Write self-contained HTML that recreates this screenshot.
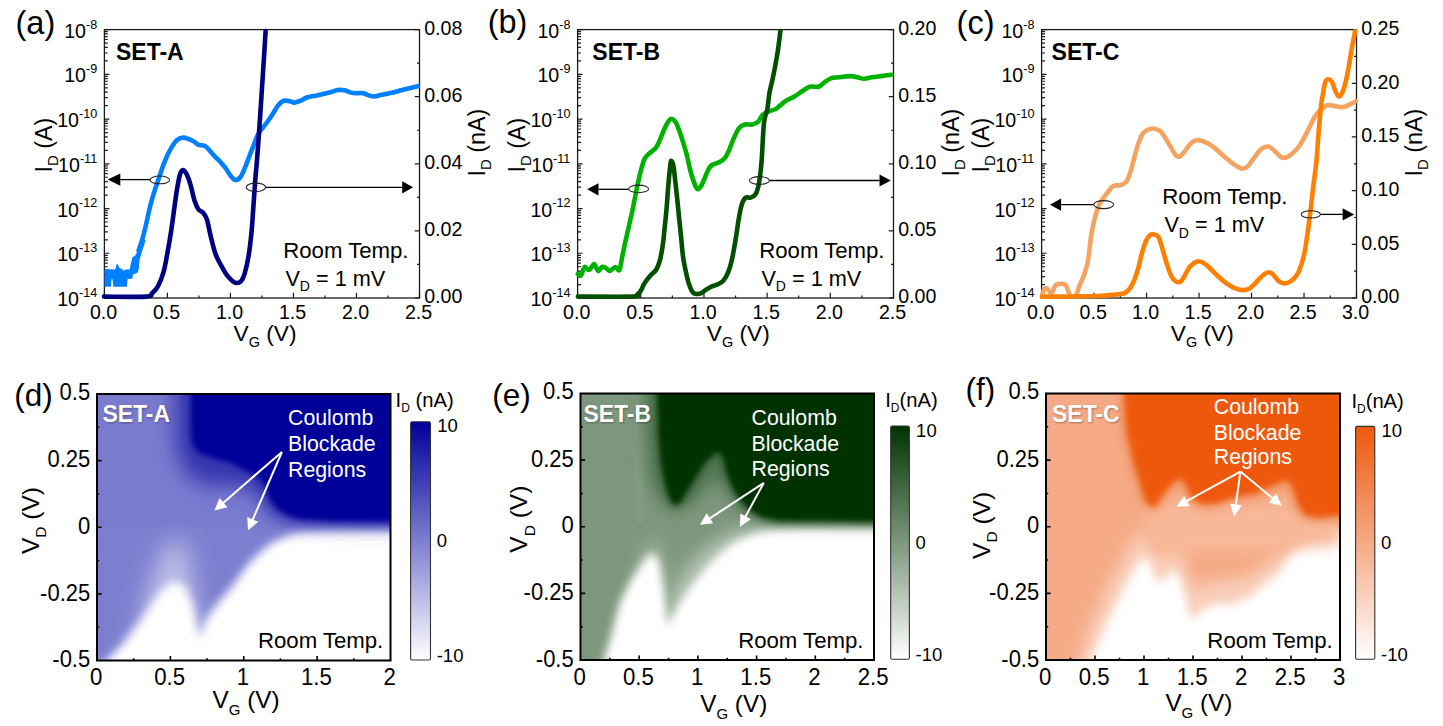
<!DOCTYPE html><html><head><meta charset="utf-8"><style>html,body{margin:0;padding:0;background:#fff;overflow:hidden}svg{display:block}</style></head><body><svg width="1443" height="726" viewBox="0 0 1443 726" font-family='"Liberation Sans", sans-serif'><text x="15.5" y="33.6" font-size="32.5">(a)</text><text x="487.7" y="33.4" font-size="32.5">(b)</text><text x="956.6" y="34.2" font-size="32.5">(c)</text><text x="14.2" y="405.5" font-size="31.5">(d)</text><text x="492.3" y="405.5" font-size="31.5">(e)</text><text x="965.6" y="399.6" font-size="31.5">(f)</text><rect x="104.4" y="29.6" width="315.1" height="268.4" fill="none" stroke="#1a1a1a" stroke-width="1.3"/><path d="M104.4 298V292.8M135.91 298V295.4M167.42 298V292.8M198.93 298V295.4M230.44 298V292.8M261.95 298V295.4M293.46 298V292.8M324.97 298V295.4M356.48 298V292.8M387.99 298V295.4M419.5 298V292.8M104.4 298H109.4M104.4 284.53H107.8M104.4 276.66H107.8M104.4 271.07H107.8M104.4 266.73H107.8M104.4 263.19H107.8M104.4 260.2H107.8M104.4 257.6H107.8M104.4 255.31H107.8M104.4 253.27H109.4M104.4 239.8H107.8M104.4 231.92H107.8M104.4 226.33H107.8M104.4 222H107.8M104.4 218.46H107.8M104.4 215.46H107.8M104.4 212.87H107.8M104.4 210.58H107.8M104.4 208.53H109.4M104.4 195.07H107.8M104.4 187.19H107.8M104.4 181.6H107.8M104.4 177.27H107.8M104.4 173.72H107.8M104.4 170.73H107.8M104.4 168.14H107.8M104.4 165.85H107.8M104.4 163.8H109.4M104.4 150.33H107.8M104.4 142.46H107.8M104.4 136.87H107.8M104.4 132.53H107.8M104.4 128.99H107.8M104.4 126H107.8M104.4 123.4H107.8M104.4 121.11H107.8M104.4 119.07H109.4M104.4 105.6H107.8M104.4 97.72H107.8M104.4 92.13H107.8M104.4 87.8H107.8M104.4 84.26H107.8M104.4 81.26H107.8M104.4 78.67H107.8M104.4 76.38H107.8M104.4 74.33H109.4M104.4 60.87H107.8M104.4 52.99H107.8M104.4 47.4H107.8M104.4 43.07H107.8M104.4 39.52H107.8M104.4 36.53H107.8M104.4 33.94H107.8M104.4 31.65H107.8M104.4 29.6H109.4M419.5 298H414.8M419.5 264.45H417M419.5 230.9H414.8M419.5 197.35H417M419.5 163.8H414.8M419.5 130.25H417M419.5 96.7H414.8M419.5 63.15H417M419.5 29.6H414.8" stroke="#1a1a1a" stroke-width="1.2" fill="none"/><text x="103.5" y="318.5" font-size="19.6" text-anchor="middle">0.0</text><text x="166.52" y="318.5" font-size="19.6" text-anchor="middle">0.5</text><text x="229.54" y="318.5" font-size="19.6" text-anchor="middle">1.0</text><text x="292.56" y="318.5" font-size="19.6" text-anchor="middle">1.5</text><text x="355.58" y="318.5" font-size="19.6" text-anchor="middle">2.0</text><text x="418.6" y="318.5" font-size="19.6" text-anchor="middle">2.5</text><text x="97.2" y="306.1" font-size="19.6" text-anchor="end">10<tspan font-size="12.6" dy="-9.2">-14</tspan></text><text x="97.2" y="261.37" font-size="19.6" text-anchor="end">10<tspan font-size="12.6" dy="-9.2">-13</tspan></text><text x="97.2" y="216.63" font-size="19.6" text-anchor="end">10<tspan font-size="12.6" dy="-9.2">-12</tspan></text><text x="97.2" y="171.9" font-size="19.6" text-anchor="end">10<tspan font-size="12.6" dy="-9.2">-11</tspan></text><text x="97.2" y="127.17" font-size="19.6" text-anchor="end">10<tspan font-size="12.6" dy="-9.2">-10</tspan></text><text x="97.2" y="82.43" font-size="19.6" text-anchor="end">10<tspan font-size="12.6" dy="-9.2">-9</tspan></text><text x="97.2" y="37.7" font-size="19.6" text-anchor="end">10<tspan font-size="12.6" dy="-9.2">-8</tspan></text><text x="424.2" y="303.3" font-size="19.6">0.00</text><text x="424.2" y="236.2" font-size="19.6">0.02</text><text x="424.2" y="169.1" font-size="19.6">0.04</text><text x="424.2" y="102" font-size="19.6">0.06</text><text x="424.2" y="34.9" font-size="19.6">0.08</text><text x="233.6" y="340.5" font-size="22.7">V<tspan font-size="14.5" dy="6.3">G</tspan><tspan dy="-6.3"> (V)</tspan></text><text transform="translate(51.7,172.5) rotate(-90)" font-size="23.3">I<tspan font-size="15" dy="6.5">D</tspan><tspan dy="-6.5"> (A)</tspan></text><text transform="translate(484.8,176.6) rotate(-90)" font-size="23.3">I<tspan font-size="15" dy="6.5">D</tspan><tspan dy="-6.5"> (nA)</tspan></text><rect x="577.6" y="29.6" width="315.9" height="268.4" fill="none" stroke="#1a1a1a" stroke-width="1.3"/><path d="M577.6 298V292.8M609.19 298V295.4M640.78 298V292.8M672.37 298V295.4M703.96 298V292.8M735.55 298V295.4M767.14 298V292.8M798.73 298V295.4M830.32 298V292.8M861.91 298V295.4M893.5 298V292.8M577.6 298H582.6M577.6 284.53H581M577.6 276.66H581M577.6 271.07H581M577.6 266.73H581M577.6 263.19H581M577.6 260.2H581M577.6 257.6H581M577.6 255.31H581M577.6 253.27H582.6M577.6 239.8H581M577.6 231.92H581M577.6 226.33H581M577.6 222H581M577.6 218.46H581M577.6 215.46H581M577.6 212.87H581M577.6 210.58H581M577.6 208.53H582.6M577.6 195.07H581M577.6 187.19H581M577.6 181.6H581M577.6 177.27H581M577.6 173.72H581M577.6 170.73H581M577.6 168.14H581M577.6 165.85H581M577.6 163.8H582.6M577.6 150.33H581M577.6 142.46H581M577.6 136.87H581M577.6 132.53H581M577.6 128.99H581M577.6 126H581M577.6 123.4H581M577.6 121.11H581M577.6 119.07H582.6M577.6 105.6H581M577.6 97.72H581M577.6 92.13H581M577.6 87.8H581M577.6 84.26H581M577.6 81.26H581M577.6 78.67H581M577.6 76.38H581M577.6 74.33H582.6M577.6 60.87H581M577.6 52.99H581M577.6 47.4H581M577.6 43.07H581M577.6 39.52H581M577.6 36.53H581M577.6 33.94H581M577.6 31.65H581M577.6 29.6H582.6M893.5 298H888.8M893.5 264.45H891M893.5 230.9H888.8M893.5 197.35H891M893.5 163.8H888.8M893.5 130.25H891M893.5 96.7H888.8M893.5 63.15H891M893.5 29.6H888.8" stroke="#1a1a1a" stroke-width="1.2" fill="none"/><text x="576.7" y="318.5" font-size="19.6" text-anchor="middle">0.0</text><text x="639.88" y="318.5" font-size="19.6" text-anchor="middle">0.5</text><text x="703.06" y="318.5" font-size="19.6" text-anchor="middle">1.0</text><text x="766.24" y="318.5" font-size="19.6" text-anchor="middle">1.5</text><text x="829.42" y="318.5" font-size="19.6" text-anchor="middle">2.0</text><text x="892.6" y="318.5" font-size="19.6" text-anchor="middle">2.5</text><text x="570.4" y="306.1" font-size="19.6" text-anchor="end">10<tspan font-size="12.6" dy="-9.2">-14</tspan></text><text x="570.4" y="261.37" font-size="19.6" text-anchor="end">10<tspan font-size="12.6" dy="-9.2">-13</tspan></text><text x="570.4" y="216.63" font-size="19.6" text-anchor="end">10<tspan font-size="12.6" dy="-9.2">-12</tspan></text><text x="570.4" y="171.9" font-size="19.6" text-anchor="end">10<tspan font-size="12.6" dy="-9.2">-11</tspan></text><text x="570.4" y="127.17" font-size="19.6" text-anchor="end">10<tspan font-size="12.6" dy="-9.2">-10</tspan></text><text x="570.4" y="82.43" font-size="19.6" text-anchor="end">10<tspan font-size="12.6" dy="-9.2">-9</tspan></text><text x="570.4" y="37.7" font-size="19.6" text-anchor="end">10<tspan font-size="12.6" dy="-9.2">-8</tspan></text><text x="898.2" y="303.3" font-size="19.6">0.00</text><text x="898.2" y="236.2" font-size="19.6">0.05</text><text x="898.2" y="169.1" font-size="19.6">0.10</text><text x="898.2" y="102" font-size="19.6">0.15</text><text x="898.2" y="34.9" font-size="19.6">0.20</text><text x="706.8" y="340.5" font-size="22.7">V<tspan font-size="14.5" dy="6.3">G</tspan><tspan dy="-6.3"> (V)</tspan></text><text transform="translate(524.9,172.5) rotate(-90)" font-size="23.3">I<tspan font-size="15" dy="6.5">D</tspan><tspan dy="-6.5"> (A)</tspan></text><text transform="translate(958.8,176.6) rotate(-90)" font-size="23.3">I<tspan font-size="15" dy="6.5">D</tspan><tspan dy="-6.5"> (nA)</tspan></text><rect x="1041.6" y="29.6" width="314.9" height="268.4" fill="none" stroke="#1a1a1a" stroke-width="1.3"/><path d="M1041.6 298V292.8M1067.84 298V295.4M1094.08 298V292.8M1120.32 298V295.4M1146.57 298V292.8M1172.81 298V295.4M1199.05 298V292.8M1225.29 298V295.4M1251.53 298V292.8M1277.78 298V295.4M1304.02 298V292.8M1330.26 298V295.4M1356.5 298V292.8M1041.6 298H1046.6M1041.6 284.53H1045M1041.6 276.66H1045M1041.6 271.07H1045M1041.6 266.73H1045M1041.6 263.19H1045M1041.6 260.2H1045M1041.6 257.6H1045M1041.6 255.31H1045M1041.6 253.27H1046.6M1041.6 239.8H1045M1041.6 231.92H1045M1041.6 226.33H1045M1041.6 222H1045M1041.6 218.46H1045M1041.6 215.46H1045M1041.6 212.87H1045M1041.6 210.58H1045M1041.6 208.53H1046.6M1041.6 195.07H1045M1041.6 187.19H1045M1041.6 181.6H1045M1041.6 177.27H1045M1041.6 173.72H1045M1041.6 170.73H1045M1041.6 168.14H1045M1041.6 165.85H1045M1041.6 163.8H1046.6M1041.6 150.33H1045M1041.6 142.46H1045M1041.6 136.87H1045M1041.6 132.53H1045M1041.6 128.99H1045M1041.6 126H1045M1041.6 123.4H1045M1041.6 121.11H1045M1041.6 119.07H1046.6M1041.6 105.6H1045M1041.6 97.72H1045M1041.6 92.13H1045M1041.6 87.8H1045M1041.6 84.26H1045M1041.6 81.26H1045M1041.6 78.67H1045M1041.6 76.38H1045M1041.6 74.33H1046.6M1041.6 60.87H1045M1041.6 52.99H1045M1041.6 47.4H1045M1041.6 43.07H1045M1041.6 39.52H1045M1041.6 36.53H1045M1041.6 33.94H1045M1041.6 31.65H1045M1041.6 29.6H1046.6M1356.5 298H1351.8M1356.5 271.16H1354M1356.5 244.32H1351.8M1356.5 217.48H1354M1356.5 190.64H1351.8M1356.5 163.8H1354M1356.5 136.96H1351.8M1356.5 110.12H1354M1356.5 83.28H1351.8M1356.5 56.44H1354M1356.5 29.6H1351.8" stroke="#1a1a1a" stroke-width="1.2" fill="none"/><text x="1040.7" y="318.5" font-size="19.6" text-anchor="middle">0.0</text><text x="1093.18" y="318.5" font-size="19.6" text-anchor="middle">0.5</text><text x="1145.67" y="318.5" font-size="19.6" text-anchor="middle">1.0</text><text x="1198.15" y="318.5" font-size="19.6" text-anchor="middle">1.5</text><text x="1250.63" y="318.5" font-size="19.6" text-anchor="middle">2.0</text><text x="1303.12" y="318.5" font-size="19.6" text-anchor="middle">2.5</text><text x="1355.6" y="318.5" font-size="19.6" text-anchor="middle">3.0</text><text x="1034.4" y="306.1" font-size="19.6" text-anchor="end">10<tspan font-size="12.6" dy="-9.2">-14</tspan></text><text x="1034.4" y="261.37" font-size="19.6" text-anchor="end">10<tspan font-size="12.6" dy="-9.2">-13</tspan></text><text x="1034.4" y="216.63" font-size="19.6" text-anchor="end">10<tspan font-size="12.6" dy="-9.2">-12</tspan></text><text x="1034.4" y="171.9" font-size="19.6" text-anchor="end">10<tspan font-size="12.6" dy="-9.2">-11</tspan></text><text x="1034.4" y="127.17" font-size="19.6" text-anchor="end">10<tspan font-size="12.6" dy="-9.2">-10</tspan></text><text x="1034.4" y="82.43" font-size="19.6" text-anchor="end">10<tspan font-size="12.6" dy="-9.2">-9</tspan></text><text x="1034.4" y="37.7" font-size="19.6" text-anchor="end">10<tspan font-size="12.6" dy="-9.2">-8</tspan></text><text x="1361.2" y="303.3" font-size="19.6">0.00</text><text x="1361.2" y="249.62" font-size="19.6">0.05</text><text x="1361.2" y="195.94" font-size="19.6">0.10</text><text x="1361.2" y="142.26" font-size="19.6">0.15</text><text x="1361.2" y="88.58" font-size="19.6">0.20</text><text x="1361.2" y="34.9" font-size="19.6">0.25</text><text x="1170.8" y="340.5" font-size="22.7">V<tspan font-size="14.5" dy="6.3">G</tspan><tspan dy="-6.3"> (V)</tspan></text><text transform="translate(988.9,172.5) rotate(-90)" font-size="23.3">I<tspan font-size="15" dy="6.5">D</tspan><tspan dy="-6.5"> (A)</tspan></text><text transform="translate(1421.8,176.6) rotate(-90)" font-size="23.3">I<tspan font-size="15" dy="6.5">D</tspan><tspan dy="-6.5"> (nA)</tspan></text><text x="116" y="59.9" font-size="23" font-weight="bold">SET-A</text><text x="592.3" y="59.8" font-size="23" font-weight="bold">SET-B</text><text x="1051.6" y="59.8" font-size="23" font-weight="bold">SET-C</text><text transform="translate(283.2 258.3) scale(1 1.03)" font-size="22.2">Room Temp.</text><text x="285.4" y="286.1" font-size="21.7">V<tspan font-size="14" dy="5.2">D</tspan><tspan dy="-5.2"> = 1 mV</tspan></text><text transform="translate(759.2 258.3) scale(1 1.03)" font-size="22.2">Room Temp.</text><text x="761.4" y="286.1" font-size="21.7">V<tspan font-size="14" dy="5.2">D</tspan><tspan dy="-5.2"> = 1 mV</tspan></text><text transform="translate(1162.2 204.1) scale(1 1.03)" font-size="22.2">Room Temp.</text><text x="1164.4" y="232.4" font-size="21.7">V<tspan font-size="14" dy="5.2">D</tspan><tspan dy="-5.2"> = 1 mV</tspan></text><polygon points="104.5,269.6 106.2,268.9 115.2,269.6 116.5,264.5 117.5,264.1 119.5,268 122.7,269.6 123.8,271 124.8,269.6 129.6,269.6 130.3,266.2 132.4,257.2 135.1,255.8 138.6,249 141.3,242.8 144.1,240 145.7,240 142.5,250 139.5,260 138.6,270.3 137.2,273 133,274.4 132.4,278.6 127.5,279.3 126.9,286.8 113.4,286.8 112.5,279.3 111.5,279.3 111,286.8 104.5,286.8" fill="#0080ff"/><path d="M138.6 250.6C139.23 248.68 141.12 243.6 142.4 239.1C143.68 234.6 145.02 229.07 146.3 223.6C147.58 218.13 148.82 211.43 150.1 206.3C151.38 201.17 152.7 196.98 154 192.8C155.3 188.62 156.62 185.07 157.9 181.2C159.18 177.33 160.27 173.58 161.7 169.6C163.13 165.62 164.88 160.97 166.5 157.3C168.12 153.63 169.63 150.5 171.4 147.6C173.17 144.7 175.18 141.57 177.1 139.9C179.02 138.23 180.97 137.75 182.9 137.6C184.83 137.45 186.77 138.28 188.7 139C190.63 139.72 192.88 140.93 194.5 141.9C196.12 142.87 196.8 144.17 198.4 144.8C200 145.43 202.5 145.07 204.1 145.7C205.7 146.33 206.38 146.98 208 148.6C209.62 150.22 211.87 153.32 213.8 155.4C215.73 157.48 217.67 159.02 219.6 161.1C221.53 163.18 223.48 165.33 225.4 167.9C227.32 170.47 229.42 174.48 231.1 176.5C232.78 178.52 233.93 179.92 235.5 180C237.07 180.08 238.92 179.08 240.5 177C242.08 174.92 243.42 171.25 245 167.5C246.58 163.75 248.42 158.58 250 154.5C251.58 150.42 253.08 146.5 254.5 143C255.92 139.5 257.08 136.08 258.5 133.5C259.92 130.92 261.42 129.58 263 127.5C264.58 125.42 266.33 123.33 268 121C269.67 118.67 271.4 116 273 113.5C274.6 111 276.18 107.92 277.6 106C279.02 104.08 280.18 102.9 281.5 102C282.82 101.1 284.08 100.73 285.5 100.6C286.92 100.47 288.55 100.87 290 101.2C291.45 101.53 292.87 102.55 294.2 102.6C295.53 102.65 296.78 101.87 298 101.5C299.22 101.13 299.92 101.12 301.5 100.4C303.08 99.68 305.12 97.97 307.5 97.2C309.88 96.43 313.03 96.38 315.8 95.8C318.57 95.22 321.35 94.38 324.1 93.7C326.85 93.02 330 92.32 332.3 91.7C334.6 91.08 335.83 90.23 337.9 90C339.97 89.77 342.18 89.78 344.7 90.3C347.22 90.82 350.02 92.63 353 93.1C355.98 93.57 360.07 92.77 362.6 93.1C365.13 93.43 366.35 94.53 368.2 95.1C370.05 95.67 371.63 96.5 373.7 96.5C375.77 96.5 377.85 95.67 380.6 95.1C383.35 94.53 386.77 93.9 390.2 93.1C393.63 92.3 397.98 91.12 401.2 90.3C404.42 89.48 406.75 88.88 409.5 88.2C412.25 87.52 416.33 86.53 417.7 86.2" fill="none" stroke="#0080ff" stroke-width="4.6" stroke-linejoin="round" stroke-linecap="round"/><path d="M104 296.6C111.05 296.6 138.28 297.18 146.3 296.6C154.32 296.02 150.17 294.82 152.1 293.1C154.03 291.38 155.98 289.83 157.9 286.3C159.82 282.77 162 277.52 163.6 271.9C165.2 266.28 166.2 259.68 167.5 252.6C168.8 245.52 170.27 236.8 171.4 229.4C172.53 222 173.35 214.95 174.3 208.2C175.25 201.45 176.15 194.52 177.1 188.9C178.05 183.28 179.03 177.65 180 174.5C180.97 171.35 181.77 170 182.9 170C184.03 170 185.52 171.98 186.8 174.5C188.08 177.02 189.32 180.77 190.6 185.1C191.88 189.43 193.2 196.48 194.5 200.5C195.8 204.52 196.95 207.12 198.4 209.2C199.85 211.28 201.77 211.23 203.2 213C204.63 214.77 205.72 215.78 207 219.8C208.28 223.82 209.45 231.32 210.9 237.1C212.35 242.88 213.93 249.67 215.7 254.5C217.47 259.33 219.57 262.57 221.5 266.1C223.43 269.63 225.37 273.13 227.3 275.7C229.23 278.27 231.65 280.28 233.1 281.5C234.55 282.72 234.72 283 236 283C237.28 283 239.37 283.03 240.8 281.5C242.23 279.97 243.32 277.98 244.6 273.8C245.88 269.62 247.37 263.15 248.5 256.4C249.63 249.65 250.6 241.33 251.4 233.3C252.2 225.27 252.65 217.2 253.3 208.2C253.95 199.2 254.75 186.5 255.3 179.3C255.85 172.1 256.13 170.6 256.6 165C257.07 159.4 257.52 153.73 258.1 145.7C258.68 137.67 259.45 126.43 260.1 116.8C260.75 107.17 261.37 97.55 262 87.9C262.63 78.25 263.3 68.38 263.9 58.9C264.5 49.42 265.32 35.65 265.6 31" fill="none" stroke="#000080" stroke-width="4.6" stroke-linejoin="round" stroke-linecap="round"/><path d="M120.3 179.6H150" stroke="#000" stroke-width="1.3"/><path d="M107.7 179.6L120.3 173.5L120.3 185.7Z" fill="#000"/><ellipse cx="159.8" cy="179.9" rx="9.8" ry="3.9" fill="none" stroke="#222" stroke-width="1.1"/><path d="M265.6 187.3H402.2" stroke="#000" stroke-width="1.3"/><path d="M413.1 187.3L402.2 181.2L402.2 193.4Z" fill="#000"/><ellipse cx="255.9" cy="187.3" rx="9.7" ry="4.2" fill="none" stroke="#222" stroke-width="1.1"/><path d="M577.9 273.8C578.38 274.12 579.68 276.83 580.8 275.7C581.92 274.57 583.32 267.95 584.6 267C585.88 266.05 587.43 269.83 588.5 270C589.57 270.17 590.03 268.98 591 268C591.97 267.02 593.12 263.62 594.3 264.1C595.48 264.58 596.82 270.42 598.1 270.9C599.38 271.38 600.7 267.48 602 267C603.3 266.52 604.62 267.35 605.9 268C607.18 268.65 608.1 271.07 609.7 270.9C611.3 270.73 613.88 267.15 615.5 267C617.12 266.85 618.27 271.77 619.4 270C620.53 268.23 621.35 260.92 622.3 256.4C623.25 251.88 623.98 248.03 625.1 242.9C626.22 237.77 627.7 231.38 629 225.6C630.3 219.82 631.62 214.32 632.9 208.2C634.18 202.08 635.42 195 636.7 188.9C637.98 182.8 639.32 176.55 640.6 171.6C641.88 166.65 643.12 162.07 644.4 159.2C645.68 156.33 646.37 156.33 648.3 154.4C650.23 152.47 654.07 150.02 656 147.6C657.93 145.18 658.3 143.43 659.9 139.9C661.5 136.37 663.83 129.87 665.6 126.4C667.37 122.93 668.88 119.9 670.5 119.1C672.12 118.3 673.87 119.73 675.3 121.6C676.73 123.47 677.82 126.92 679.1 130.3C680.38 133.68 681.7 137.72 683 141.9C684.3 146.08 685.62 150.38 686.9 155.4C688.18 160.42 689.1 166.57 690.7 172C692.3 177.43 694.88 185.5 696.5 188C698.12 190.5 699.12 188.45 700.4 187C701.68 185.55 702.92 182.13 704.2 179.3C705.48 176.47 706.82 172.38 708.1 170C709.38 167.62 709.98 166.32 711.9 165C713.82 163.68 717.35 163.38 719.6 162.1C721.85 160.82 723.78 159.38 725.4 157.3C727.02 155.22 728.02 152.5 729.3 149.6C730.58 146.7 731.5 143.43 733.1 139.9C734.7 136.37 736.97 130.97 738.9 128.4C740.83 125.83 742.45 125.15 744.7 124.5C746.95 123.85 750.15 124.98 752.4 124.5C754.65 124.02 756.48 123.23 758.2 121.6C759.92 119.97 760.68 116.48 762.7 114.7C764.72 112.92 768.02 111.92 770.3 110.9C772.58 109.88 773.87 110.23 776.4 108.6C778.93 106.97 782.48 103.12 785.5 101.1C788.52 99.08 791.73 98.15 794.5 96.5C797.27 94.85 799.57 92.83 802.1 91.2C804.63 89.57 806.92 87.45 809.7 86.7C812.48 85.95 816.28 87.47 818.8 86.7C821.32 85.93 822.78 83.5 824.8 82.1C826.82 80.7 828.62 79.1 830.9 78.3C833.18 77.5 835.22 77.67 838.5 77.3C841.78 76.93 847.32 76.05 850.6 76.1C853.88 76.15 855.93 77.15 858.2 77.6C860.47 78.05 861.93 78.85 864.2 78.8C866.47 78.75 869.02 77.75 871.8 77.3C874.58 76.85 877.62 76.52 880.9 76.1C884.18 75.68 889.73 75.02 891.5 74.8" fill="none" stroke="#00b200" stroke-width="4.6" stroke-linejoin="round" stroke-linecap="round"/><path d="M577.9 296.6C587.07 296.6 623.1 296.87 632.9 296.6C642.7 296.33 635.42 295.92 636.7 295C637.98 294.08 639.32 293.03 640.6 291.1C641.88 289.17 642.8 285.97 644.4 283.4C646 280.83 648.27 277.95 650.2 275.7C652.13 273.45 654.38 272.47 656 269.9C657.62 267.33 658.77 264.47 659.9 260.3C661.03 256.13 662 250.37 662.8 244.9C663.6 239.43 664.07 233.62 664.7 227.5C665.33 221.38 665.97 215.6 666.6 208.2C667.23 200.8 667.85 190.48 668.5 183.1C669.15 175.72 670.02 167.58 670.5 163.9C670.98 160.22 670.92 160.68 671.4 161C671.88 161.32 672.75 162.43 673.4 165.8C674.05 169.17 674.67 175.73 675.3 181.2C675.93 186.67 676.57 192.48 677.2 198.6C677.83 204.72 678.45 211.48 679.1 217.9C679.75 224.32 680.45 230.68 681.1 237.1C681.75 243.52 682.2 250.6 683 256.4C683.8 262.2 684.93 267.4 685.9 271.9C686.87 276.4 687.68 280.03 688.8 283.4C689.92 286.77 691.32 290.33 692.6 292.1C693.88 293.87 695.05 293.83 696.5 294C697.95 294.17 699.7 293.83 701.3 293.1C702.9 292.37 704.33 290.73 706.1 289.6C707.87 288.47 709.97 287.17 711.9 286.3C713.83 285.43 715.77 285.37 717.7 284.4C719.63 283.43 721.73 282.58 723.5 280.5C725.27 278.42 726.85 275.58 728.3 271.9C729.75 268.22 730.92 264.2 732.2 258.4C733.48 252.6 734.88 243.85 736 237.1C737.12 230.35 737.93 223.35 738.9 217.9C739.87 212.45 740.67 207.78 741.8 204.4C742.93 201.02 744.25 198.73 745.7 197.6C747.15 196.47 748.9 198.08 750.5 197.6C752.1 197.12 754.02 196.47 755.3 194.7C756.58 192.93 757.4 190.22 758.2 187C759 183.78 759.52 179.9 760.1 175.4C760.68 170.9 761.05 168.8 761.7 160C762.35 151.2 763.07 131.03 764 122.6C764.93 114.17 766.38 114.38 767.3 109.4C768.22 104.42 768.62 97.75 769.5 92.7C770.38 87.65 771.58 83.9 772.6 79.1C773.62 74.3 774.72 68.7 775.6 63.9C776.48 59.1 777.22 54.83 777.9 50.3C778.58 45.77 779.28 39.92 779.7 36.7C780.12 33.48 780.28 31.95 780.4 31" fill="none" stroke="#005000" stroke-width="4.6" stroke-linejoin="round" stroke-linecap="round"/><path d="M598.5 189.3H628.6" stroke="#000" stroke-width="1.3"/><path d="M587.1 189.3L598.5 183.2L598.5 195.4Z" fill="#000"/><ellipse cx="638.6" cy="188.9" rx="10" ry="3.8" fill="none" stroke="#222" stroke-width="1.1"/><path d="M769.4 180.5H879.5" stroke="#000" stroke-width="1.3"/><path d="M890.8 180.5L879.5 174.4L879.5 186.6Z" fill="#000"/><ellipse cx="759.4" cy="180.5" rx="10" ry="3.9" fill="none" stroke="#222" stroke-width="1.1"/><path d="M1042.3 294.7C1042.62 293.77 1043.47 290.13 1044.2 289.1C1044.93 288.07 1045.87 288.18 1046.7 288.5C1047.53 288.82 1048.43 290.17 1049.2 291C1049.97 291.83 1050.58 293.82 1051.3 293.5C1052.02 293.18 1052.72 290.5 1053.5 289.1C1054.28 287.7 1054.97 285.97 1056 285.1C1057.03 284.23 1058.37 284.05 1059.7 283.9C1061.03 283.75 1062.87 283.73 1064 284.2C1065.13 284.67 1065.77 285.47 1066.5 286.7C1067.23 287.93 1067.78 290.17 1068.4 291.6C1069.02 293.03 1069.48 294.47 1070.2 295.3C1070.92 296.13 1071.67 296.7 1072.7 296.6C1073.73 296.5 1075.37 296.25 1076.4 294.7C1077.43 293.15 1078.07 289.57 1078.9 287.3C1079.73 285.03 1080.57 283.07 1081.4 281.1C1082.23 279.13 1083.18 277.47 1083.9 275.5C1084.62 273.53 1085.08 271.37 1085.7 269.3C1086.32 267.23 1087.08 265.48 1087.6 263.1C1088.12 260.72 1088.23 259.33 1088.8 255C1089.37 250.67 1090.15 242.65 1091 237.1C1091.85 231.55 1092.77 226.52 1093.9 221.7C1095.03 216.88 1096.52 211.73 1097.8 208.2C1099.08 204.67 1100 203.07 1101.6 200.5C1103.2 197.93 1105.47 195.22 1107.4 192.8C1109.33 190.38 1110.95 187.28 1113.2 186C1115.45 184.72 1118.65 185.9 1120.9 185.1C1123.15 184.3 1125.08 183.55 1126.7 181.2C1128.32 178.85 1129.32 174.98 1130.6 171C1131.88 167.02 1133.12 161.83 1134.4 157.3C1135.68 152.77 1136.85 147.82 1138.3 143.8C1139.75 139.78 1141.33 135.62 1143.1 133.2C1144.87 130.78 1146.97 130.05 1148.9 129.3C1150.83 128.55 1152.77 128.37 1154.7 128.7C1156.63 129.03 1158.73 129.75 1160.5 131.3C1162.27 132.85 1163.53 135.28 1165.3 138C1167.07 140.72 1169.33 144.7 1171.1 147.6C1172.87 150.5 1174.45 153.95 1175.9 155.4C1177.35 156.85 1178.35 156.95 1179.8 156.3C1181.25 155.65 1182.83 153.58 1184.6 151.5C1186.37 149.42 1188.48 145.67 1190.4 143.8C1192.32 141.93 1194.18 140.78 1196.1 140.3C1198.02 139.82 1199.97 140.4 1201.9 140.9C1203.83 141.4 1205.45 142.02 1207.7 143.3C1209.95 144.58 1212.5 146.28 1215.4 148.6C1218.3 150.92 1221.88 154.48 1225.1 157.2C1228.32 159.92 1231.82 162.97 1234.7 164.9C1237.58 166.83 1240.15 168.63 1242.4 168.8C1244.65 168.97 1245.95 168.15 1248.2 165.9C1250.45 163.65 1253.65 158.18 1255.9 155.3C1258.15 152.42 1259.62 150.05 1261.7 148.6C1263.78 147.15 1266.15 146.13 1268.4 146.6C1270.65 147.07 1273.1 149.63 1275.2 151.4C1277.3 153.17 1279.08 156.23 1281 157.2C1282.92 158.17 1284.45 158.17 1286.7 157.2C1288.95 156.23 1292.25 153.48 1294.5 151.4C1296.75 149.32 1297.95 148.23 1300.2 144.7C1302.45 141.17 1305.75 134.53 1308 130.2C1310.25 125.87 1311.78 121.9 1313.7 118.7C1315.62 115.5 1317.25 113.25 1319.5 111C1321.75 108.75 1324.63 106.02 1327.2 105.2C1329.77 104.38 1332.32 105.78 1334.9 106.1C1337.48 106.42 1340.12 107.42 1342.7 107.1C1345.28 106.78 1348.22 105.17 1350.4 104.2C1352.58 103.23 1354.9 101.78 1355.8 101.3" fill="none" stroke="#f4a460" stroke-width="4.6" stroke-linejoin="round" stroke-linecap="round"/><path d="M1041.9 296.7C1050.9 296.58 1083.7 296.37 1095.9 296C1108.1 295.63 1110.28 294.98 1115.1 294.5C1119.92 294.02 1122.22 294.3 1124.8 293.1C1127.38 291.9 1129 289.55 1130.6 287.3C1132.2 285.05 1133.12 282.82 1134.4 279.6C1135.68 276.38 1137.02 272.5 1138.3 268C1139.58 263.5 1140.82 257.1 1142.1 252.6C1143.38 248.1 1144.7 243.9 1146 241C1147.3 238.1 1148.62 236.32 1149.9 235.2C1151.18 234.08 1152.27 233.98 1153.7 234.3C1155.13 234.62 1157.05 234.7 1158.5 237.1C1159.95 239.5 1161.1 244.52 1162.4 248.7C1163.7 252.88 1164.85 257.7 1166.3 262.2C1167.75 266.7 1169.5 272.48 1171.1 275.7C1172.7 278.92 1174.3 280.53 1175.9 281.5C1177.5 282.47 1179.25 282.47 1180.7 281.5C1182.15 280.53 1182.98 278.27 1184.6 275.7C1186.22 273.13 1188.15 268.5 1190.4 266.1C1192.65 263.7 1195.85 261.78 1198.1 261.3C1200.35 260.82 1202.3 262.42 1203.9 263.2C1205.5 263.98 1205.78 264.25 1207.7 266C1209.62 267.75 1212.5 270.97 1215.4 273.7C1218.3 276.43 1221.88 279.98 1225.1 282.4C1228.32 284.82 1231.82 286.92 1234.7 288.2C1237.58 289.48 1239.83 290.1 1242.4 290.1C1244.97 290.1 1247.53 289.8 1250.1 288.2C1252.67 286.6 1255.55 282.75 1257.8 280.5C1260.05 278.25 1261.83 276.08 1263.6 274.7C1265.37 273.32 1266.78 272.2 1268.4 272.2C1270.02 272.2 1271.53 273.17 1273.3 274.7C1275.07 276.23 1277.08 279.95 1279 281.4C1280.92 282.85 1282.87 283.4 1284.8 283.4C1286.73 283.4 1288.67 282.68 1290.6 281.4C1292.53 280.12 1294.8 277.93 1296.4 275.7C1298 273.47 1298.92 271.53 1300.2 268C1301.48 264.47 1302.97 259.65 1304.1 254.5C1305.23 249.35 1306.2 242.25 1307 237.1C1307.8 231.95 1308.27 228.42 1308.9 223.6C1309.53 218.78 1310.15 213.67 1310.8 208.2C1311.45 202.73 1312.15 196.27 1312.8 190.8C1313.45 185.33 1314.07 180.53 1314.7 175.4C1315.33 170.27 1316.12 164.95 1316.6 160C1317.08 155.05 1317.12 151.95 1317.6 145.7C1318.08 139.45 1318.87 129.57 1319.5 122.5C1320.13 115.43 1320.75 108.43 1321.4 103.3C1322.05 98.17 1322.75 95.25 1323.4 91.7C1324.05 88.15 1324.5 84.08 1325.3 82C1326.1 79.92 1327.08 79.2 1328.2 79.2C1329.32 79.2 1330.88 80.23 1332 82C1333.12 83.77 1333.77 87.38 1334.9 89.8C1336.03 92.22 1337.5 96.18 1338.8 96.5C1340.1 96.82 1341.42 94.75 1342.7 91.7C1343.98 88.65 1345.38 83.02 1346.5 78.2C1347.62 73.38 1348.43 68.27 1349.4 62.8C1350.37 57.33 1351.33 50.7 1352.3 45.4C1353.27 40.1 1354.72 33.4 1355.2 31" fill="none" stroke="#ff8000" stroke-width="4.6" stroke-linejoin="round" stroke-linecap="round"/><path d="M1061.1 204.7H1093.8" stroke="#000" stroke-width="1.3"/><path d="M1050 204.7L1061.1 198.6L1061.1 210.8Z" fill="#000"/><ellipse cx="1103.7" cy="204.6" rx="9.9" ry="4" fill="none" stroke="#222" stroke-width="1.1"/><path d="M1320.4 214.4H1342.6" stroke="#000" stroke-width="1.3"/><path d="M1354.2 214.4L1342.6 208.3L1342.6 220.5Z" fill="#000"/><ellipse cx="1310.8" cy="214.4" rx="9.6" ry="3.6" fill="none" stroke="#222" stroke-width="1.1"/><defs><filter id="b1" x="-50%" y="-50%" width="200%" height="200%"><feGaussianBlur stdDeviation="1"/></filter><filter id="b2_5" x="-50%" y="-50%" width="200%" height="200%"><feGaussianBlur stdDeviation="2.5"/></filter><filter id="b3" x="-50%" y="-50%" width="200%" height="200%"><feGaussianBlur stdDeviation="3"/></filter><filter id="b3_5" x="-50%" y="-50%" width="200%" height="200%"><feGaussianBlur stdDeviation="3.5"/></filter><filter id="b4" x="-50%" y="-50%" width="200%" height="200%"><feGaussianBlur stdDeviation="4"/></filter><filter id="b5" x="-50%" y="-50%" width="200%" height="200%"><feGaussianBlur stdDeviation="5"/></filter><filter id="b6" x="-50%" y="-50%" width="200%" height="200%"><feGaussianBlur stdDeviation="6"/></filter><filter id="b7" x="-50%" y="-50%" width="200%" height="200%"><feGaussianBlur stdDeviation="7"/></filter><filter id="b8" x="-50%" y="-50%" width="200%" height="200%"><feGaussianBlur stdDeviation="8"/></filter><filter id="b9" x="-50%" y="-50%" width="200%" height="200%"><feGaussianBlur stdDeviation="9"/></filter><filter id="b10" x="-50%" y="-50%" width="200%" height="200%"><feGaussianBlur stdDeviation="10"/></filter><filter id="b12" x="-50%" y="-50%" width="200%" height="200%"><feGaussianBlur stdDeviation="12"/></filter><clipPath id="clipd"><rect x="97" y="394" width="293.5" height="266.5"/></clipPath><clipPath id="clipe"><rect x="580.5" y="393.5" width="293.5" height="266.5"/></clipPath><clipPath id="clipf"><rect x="1046" y="393.5" width="294" height="266.5"/></clipPath></defs><g clip-path="url(#clipd)"><rect x="97" y="394" width="293.5" height="266.5" fill="#7c7ed0"/><rect x="97" y="394" width="293.5" height="133.5" fill="#7a7bcf"/><polygon points="135,650 145,600 158,560 170,540 184,540 192,570 197,610 200,650" fill="#fff" filter="url(#b12)" opacity="0.5"/><polygon points="60,720 60,690 105.4,662 122.1,644 138.9,623 151.4,604.2 161.9,589.5 174.5,581 184.9,586 192.3,604.2 199.6,638 205.9,618.9 218.4,602.1 231,587.5 241,574 249,563 258,554 270,544 283,537 298,532 320,530.5 420,529.5 420,720" fill="#fff" filter="url(#b5)"/><polygon points="174,370 175,445 182,468 195,482 215,487 235,485 252,490 264,505 275,518 300,523 420,524 420,370" fill="#3737b1" filter="url(#b10)"/><polygon points="191.5,368 191.3,368.01 191.11,368.04 190.92,368.09 190.73,368.15 190.56,368.24 190.39,368.34 190.23,368.45 190.09,368.59 189.95,368.73 189.84,368.89 189.74,369.06 189.65,369.23 189.59,369.42 189.54,369.61 189.51,369.8 189.5,370 189.5,430 189.51,430.15 190.51,443.15 190.53,443.36 190.58,443.56 190.65,443.76 190.74,443.95 190.85,444.13 197.35,453.63 197.47,453.79 197.62,453.94 197.77,454.08 197.94,454.2 198.12,454.3 198.31,454.38 213.31,459.88 213.49,459.93 230.29,464.38 245.51,471.99 256.71,477.59 263.93,486.59 268.62,499.77 268.68,499.94 268.76,500.09 268.86,500.24 275.56,509.84 275.69,510.01 275.84,510.17 276.01,510.31 276.19,510.43 287.79,517.23 287.95,517.31 288.11,517.38 288.28,517.43 299.48,520.43 299.67,520.47 299.87,520.5 329.87,522.5 329.98,522.5 419.98,523.5 420.18,523.49 420.37,523.47 420.56,523.42 420.75,523.35 420.93,523.27 421.1,523.17 421.26,523.05 421.41,522.92 421.54,522.78 421.66,522.62 421.76,522.45 421.85,522.27 421.91,522.08 421.96,521.89 421.99,521.7 422,521.5 422,370 421.99,369.8 421.96,369.61 421.91,369.42 421.85,369.23 421.76,369.06 421.66,368.89 421.55,368.73 421.41,368.59 421.27,368.45 421.11,368.34 420.94,368.24 420.77,368.15 420.58,368.09 420.39,368.04 420.2,368.01 420,368 191.5,368" fill="#2526aa" filter="url(#b5)"/><polygon points="191.5,370 191.5,430 192.5,443 199,452.5 214,458 231,462.5 246.4,470.2 258,476 265.7,485.6 270.5,499.1 277.2,508.7 288.8,515.5 300,518.5 330,520.5 420,521.5 420,370" fill="#000099" filter="url(#b2_5)"/></g><text x="103.2" y="422.9" font-size="23" font-weight="bold" fill="#000" opacity="0.35" filter="url(#b1)">SET-A</text><text x="102.4" y="422.1" font-size="23" font-weight="bold" fill="#fff">SET-A</text><text x="288" y="425.4" font-size="21.3" fill="#fff">Coulomb</text><text x="288" y="451" font-size="21.3" fill="#fff">Blockade</text><text x="288" y="476.6" font-size="21.3" fill="#fff">Regions</text><path d="M281.9 452L221.96 503.95" stroke="#fff" stroke-width="2"/><polygon points="214.4,510.5 219.54,498.11 227.4,507.17" fill="#fff"/><path d="M281.9 452L251.96 521.32" stroke="#fff" stroke-width="2"/><polygon points="248,530.5 247.25,517.1 258.27,521.86" fill="#fff"/><text transform="translate(383.3 648.1) scale(1 1.03)" font-size="22.2" text-anchor="end">Room Temp.</text><rect x="97" y="394" width="293.5" height="266.5" fill="none" stroke="#000" stroke-width="2"/><path d="M133.69 660.5V658.3M170.38 660.5V655.9M207.06 660.5V658.3M243.75 660.5V655.9M280.44 660.5V658.3M317.12 660.5V655.9M353.81 660.5V658.3M97 627.19H99.2M97 593.88H101.6M97 560.56H99.2M97 527.25H101.6M97 493.94H99.2M97 460.62H101.6M97 427.31H99.2" stroke="#000" stroke-width="1.6" fill="none"/><text transform="translate(96.2 684.7) scale(1 1.1)" font-size="22.2" text-anchor="middle">0</text><text transform="translate(169.57 684.7) scale(1 1.1)" font-size="22.2" text-anchor="middle">0.5</text><text transform="translate(242.95 684.7) scale(1 1.1)" font-size="22.2" text-anchor="middle">1</text><text transform="translate(316.32 684.7) scale(1 1.1)" font-size="22.2" text-anchor="middle">1.5</text><text transform="translate(389.7 684.7) scale(1 1.1)" font-size="22.2" text-anchor="middle">2</text><text transform="translate(90.2 667.2) scale(1 1.1)" font-size="22" text-anchor="end">-0.5</text><text transform="translate(90.2 600.58) scale(1 1.1)" font-size="22" text-anchor="end">-0.25</text><text transform="translate(90.2 533.95) scale(1 1.1)" font-size="22" text-anchor="end">0</text><text transform="translate(90.2 467.32) scale(1 1.1)" font-size="22" text-anchor="end">0.25</text><text transform="translate(90.2 399.9) scale(1 1.1)" font-size="22" text-anchor="end">0.5</text><text x="212.6" y="707.7" font-size="24.3">V<tspan font-size="15" dy="7">G</tspan><tspan dy="-7"> (V)</tspan></text><text transform="translate(38.5,554) rotate(-90)" font-size="24.5">V<tspan font-size="15.5" dy="7.4">D</tspan><tspan dy="-7.4"> (V)</tspan></text><linearGradient id="gd" x1="0" y1="0" x2="0" y2="1"><stop offset="0" stop-color="#000099"/><stop offset="0.5" stop-color="#7c7ed0"/><stop offset="1" stop-color="#fff"/></linearGradient><rect x="410.6" y="421.7" width="19.9" height="238.3" rx="1.5" fill="url(#gd)" stroke="#333" stroke-width="1.1"/><text x="437.2" y="432.2" font-size="18.5">10</text><text x="436.7" y="547.45" font-size="18.5">0</text><text x="436.7" y="661.8" font-size="18.5">-10</text><text x="395.6" y="406.5" font-size="20.2">I<tspan font-size="12" dy="5">D</tspan><tspan dy="-5"> (nA)</tspan></text><g clip-path="url(#clipe)"><rect x="580.5" y="393.5" width="293.5" height="266.5" fill="#7d977d"/><polygon points="636,380 643,380 643,520 636,520" fill="#fff" filter="url(#b3)" opacity="0.07"/><polygon points="630,600 640,570 648,545 656,540 661,560 664,600" fill="#fff" filter="url(#b9)" opacity="0.35"/><polygon points="668,640 669,600 678,578 692,560 706,547 720,537 738,529 758,525 800,523.5 900,523.5 900,640" fill="#b1c1b1" filter="url(#b8)"/><polygon points="570,720 592,700 603,662 611,635.6 619,604.2 629.5,583 639.5,567 648.5,555 653,553 658,559 662,578 665.5,604.2 668.5,626 675,611 686,593 699,576 712,561 725,549 738,540 755,533.5 771,530 800,528.5 900,528 900,720" fill="#fff" filter="url(#b4)"/><polygon points="643,370 645,440 650,480 660,500 672,512 690,505 705,490 715,475 725,490 735,503 750,515 770,521 900,523 900,370" fill="#507350" filter="url(#b8)"/><polygon points="657.5,368.5 657.35,368.51 657.2,368.53 657.06,368.57 656.92,368.62 656.78,368.68 656.66,368.76 656.54,368.85 656.43,368.95 656.33,369.06 656.24,369.18 656.17,369.31 656.11,369.45 656.06,369.59 656.02,369.73 656,369.88 656,370.03 656.5,395.03 656.5,395.05 658,440.05 658.01,440.15 660.51,465.15 660.53,465.29 664.53,485.29 664.58,485.47 669.58,500.47 669.62,500.6 669.68,500.72 669.75,500.83 669.83,500.94 673.83,505.94 673.92,506.04 674.03,506.14 674.14,506.23 674.26,506.31 674.39,506.37 674.53,506.42 674.66,506.46 674.81,506.49 674.95,506.5 675.09,506.5 675.24,506.48 675.38,506.45 675.51,506.41 675.65,506.35 675.77,506.29 680.77,503.29 680.89,503.2 681.01,503.11 681.11,503.01 681.2,502.89 681.29,502.77 687.28,492.78 695.27,479.79 705.18,463.94 714.84,454.28 718.39,452.86 722.6,459.59 726.54,475.36 726.58,475.48 726.62,475.59 732.62,489.59 732.68,489.71 732.75,489.83 740.75,501.83 740.84,501.95 740.94,502.06 750.94,512.06 751.06,512.17 751.19,512.26 751.33,512.34 763.33,518.34 763.46,518.4 763.59,518.44 763.72,518.47 779.72,521.47 779.85,521.49 779.99,521.5 899.99,522.5 900.14,522.49 900.28,522.47 900.43,522.44 900.57,522.39 900.7,522.33 900.83,522.25 900.95,522.16 901.06,522.07 901.16,521.96 901.24,521.84 901.32,521.71 901.38,521.58 901.43,521.44 901.47,521.29 901.49,521.15 901.5,521 901.5,370 901.49,369.85 901.47,369.71 901.44,369.56 901.39,369.43 901.32,369.29 901.25,369.17 901.16,369.05 901.06,368.94 900.95,368.84 900.83,368.75 900.71,368.68 900.57,368.61 900.44,368.56 900.29,368.53 900.15,368.51 900,368.5 657.5,368.5" fill="#265126" filter="url(#b4)"/><polygon points="657.5,370 658,395 659.5,440 662,465 666,485 671,500 675,505 680,502 686,492 694,479 704,463 714,453 719,451 724,459 728,475 734,489 742,501 752,511 764,517 780,520 900,521 900,370" fill="#003300" filter="url(#b2_5)"/></g><text x="584.2" y="422.6" font-size="23" font-weight="bold" fill="#000" opacity="0.35" filter="url(#b1)">SET-B</text><text x="583.4" y="421.8" font-size="23" font-weight="bold" fill="#fff">SET-B</text><text x="751.5" y="425.4" font-size="21.3" fill="#fff">Coulomb</text><text x="751.5" y="451" font-size="21.3" fill="#fff">Blockade</text><text x="751.5" y="475.8" font-size="21.3" fill="#fff">Regions</text><path d="M763.8 482.9L708.26 519.32" stroke="#fff" stroke-width="2"/><polygon points="699.9,524.8 706.64,513.2 713.23,523.24" fill="#fff"/><path d="M763.8 482.9L744.68 518.02" stroke="#fff" stroke-width="2"/><polygon points="739.9,526.8 740.37,513.39 750.91,519.13" fill="#fff"/><text transform="translate(863.5 648.1) scale(1 1.03)" font-size="22.2" text-anchor="end">Room Temp.</text><rect x="580.5" y="393.5" width="293.5" height="266.5" fill="none" stroke="#000" stroke-width="2"/><path d="M609.85 660V657.8M639.2 660V655.4M668.55 660V657.8M697.9 660V655.4M727.25 660V657.8M756.6 660V655.4M785.95 660V657.8M815.3 660V655.4M844.65 660V657.8M580.5 626.69H582.7M580.5 593.38H585.1M580.5 560.06H582.7M580.5 526.75H585.1M580.5 493.44H582.7M580.5 460.12H585.1M580.5 426.81H582.7" stroke="#000" stroke-width="1.6" fill="none"/><text transform="translate(579.7 684.7) scale(1 1.1)" font-size="22.2" text-anchor="middle">0</text><text transform="translate(638.4 684.7) scale(1 1.1)" font-size="22.2" text-anchor="middle">0.5</text><text transform="translate(697.1 684.7) scale(1 1.1)" font-size="22.2" text-anchor="middle">1</text><text transform="translate(755.8 684.7) scale(1 1.1)" font-size="22.2" text-anchor="middle">1.5</text><text transform="translate(814.5 684.7) scale(1 1.1)" font-size="22.2" text-anchor="middle">2</text><text transform="translate(873.2 684.7) scale(1 1.1)" font-size="22.2" text-anchor="middle">2.5</text><text transform="translate(573.7 666.7) scale(1 1.1)" font-size="22" text-anchor="end">-0.5</text><text transform="translate(573.7 600.08) scale(1 1.1)" font-size="22" text-anchor="end">-0.25</text><text transform="translate(573.7 533.45) scale(1 1.1)" font-size="22" text-anchor="end">0</text><text transform="translate(573.7 466.82) scale(1 1.1)" font-size="22" text-anchor="end">0.25</text><text transform="translate(573.7 399.4) scale(1 1.1)" font-size="22" text-anchor="end">0.5</text><text x="700.2" y="711.5" font-size="24.3">V<tspan font-size="15" dy="7">G</tspan><tspan dy="-7"> (V)</tspan></text><text transform="translate(527.2,552.7) rotate(-90)" font-size="24.5">V<tspan font-size="15.5" dy="7.4">D</tspan><tspan dy="-7.4"> (V)</tspan></text><linearGradient id="ge" x1="0" y1="0" x2="0" y2="1"><stop offset="0" stop-color="#003300"/><stop offset="0.5" stop-color="#7d977d"/><stop offset="1" stop-color="#fff"/></linearGradient><rect x="890.7" y="426" width="18.7" height="233.3" rx="1.5" fill="url(#ge)" stroke="#333" stroke-width="1.1"/><text x="916.1" y="436.5" font-size="18.5">10</text><text x="915.6" y="549.25" font-size="18.5">0</text><text x="915.6" y="661.1" font-size="18.5">-10</text><text x="885.2" y="407.2" font-size="20.2">I<tspan font-size="12" dy="5">D</tspan><tspan dy="-5">(nA)</tspan></text><g clip-path="url(#clipf)"><rect x="1046" y="393.5" width="294" height="266.5" fill="#f5aa85"/><polygon points="1075,720 1078,660 1092,620 1110,582 1122,560 1132,542 1144,530 1152,538 1158,555 1164,560 1172,545 1180,545 1188,575 1196,590 1215,580 1235,580 1250,575 1265,565 1280,553 1292,540 1305,530 1340,528 1360,528 1360,720" fill="#f9cfbb" filter="url(#b8)"/><polygon points="1078,720 1086,690 1090,662 1105,627 1123,590 1131,575 1136.8,565 1144.4,557 1150.1,563 1155.7,580 1161.4,583 1169,573 1176.6,570 1182.3,586 1189.8,615 1195.5,619 1203.1,608 1218.2,604 1233.4,604 1248.5,598 1263.7,585 1278.8,573 1286.4,562 1297.8,547 1309.2,537 1339.5,533 1360,533 1360,720" fill="#fff" filter="url(#b5)"/><polygon points="1140,512 1160,505 1180,496 1200,510 1250,505 1290,500 1300,520 1340,524 1340,545 1300,548 1250,552 1200,552 1150,548" fill="#f7b899" filter="url(#b7)"/><polygon points="1124.5,366 1124.1,366.02 1123.7,366.08 1123.31,366.18 1122.93,366.32 1122.57,366.5 1122.23,366.71 1121.91,366.95 1121.62,367.23 1121.35,367.53 1121.12,367.86 1120.92,368.21 1120.76,368.58 1120.64,368.96 1120.55,369.36 1120.51,369.76 1120.5,370.16 1121.5,395.16 1121.51,395.27 1124.01,431.57 1124.04,431.89 1124.1,432.19 1131.2,463.19 1131.27,463.45 1137.47,484.05 1137.51,484.16 1143.71,502.76 1143.84,503.11 1144.01,503.45 1144.2,503.76 1144.43,504.06 1144.68,504.34 1144.96,504.59 1145.26,504.81 1151.46,509.01 1151.79,509.22 1152.15,509.39 1152.52,509.52 1152.9,509.62 1153.29,509.68 1153.68,509.7 1154.08,509.68 1154.47,509.63 1154.85,509.53 1155.22,509.4 1155.58,509.23 1155.91,509.03 1156.23,508.8 1156.52,508.53 1156.79,508.24 1157.02,507.92 1165.21,495.7 1174.85,484.09 1179.73,481.59 1183.33,485.18 1189.22,498.97 1189.4,499.33 1189.61,499.67 1189.85,499.99 1190.13,500.29 1190.43,500.55 1190.76,500.78 1191.11,500.98 1201.51,506.18 1201.85,506.33 1202.2,506.44 1202.55,506.53 1202.92,506.58 1203.29,506.6 1203.65,506.58 1216.05,505.48 1216.51,505.42 1216.96,505.29 1229.11,501.25 1245.41,497.22 1257.67,495.14 1258.05,495.06 1258.43,494.94 1258.79,494.78 1271.04,488.65 1280.94,484.71 1286.3,483.34 1290.51,488.98 1296.51,506.96 1296.66,507.37 1296.87,507.75 1297.11,508.11 1303.31,516.31 1303.55,516.6 1303.82,516.87 1304.11,517.11 1304.42,517.32 1304.76,517.5 1305.1,517.65 1305.46,517.76 1305.83,517.84 1318.23,519.94 1318.6,519.99 1318.98,520 1319.35,519.97 1337.8,517.89 1360.16,517 1360.54,516.96 1360.92,516.89 1361.28,516.79 1361.64,516.65 1361.98,516.47 1362.3,516.27 1362.61,516.03 1362.88,515.77 1363.14,515.48 1363.36,515.17 1363.55,514.84 1363.71,514.49 1363.84,514.13 1363.93,513.76 1363.98,513.38 1364,513 1364,370 1363.98,369.61 1363.92,369.22 1363.83,368.84 1363.7,368.47 1363.53,368.11 1363.33,367.78 1363.09,367.46 1362.83,367.17 1362.54,366.91 1362.22,366.67 1361.89,366.47 1361.53,366.3 1361.16,366.17 1360.78,366.08 1360.39,366.02 1360,366 1124.5,366" fill="#f28d59" filter="url(#b6)"/><polygon points="1124.5,368.5 1124.35,368.51 1124.2,368.53 1124.05,368.57 1123.91,368.62 1123.78,368.69 1123.65,368.77 1123.53,368.86 1123.42,368.96 1123.32,369.07 1123.23,369.2 1123.16,369.33 1123.1,369.47 1123.05,369.61 1123.02,369.76 1123,369.91 1123,370.06 1124,395.06 1124,395.1 1126.5,431.4 1126.52,431.52 1126.54,431.63 1133.64,462.63 1133.66,462.73 1139.86,483.33 1139.88,483.37 1146.08,501.97 1146.13,502.1 1146.19,502.23 1146.26,502.35 1146.35,502.46 1146.44,502.56 1146.55,502.66 1146.66,502.74 1152.86,506.94 1152.98,507.02 1153.12,507.08 1153.26,507.13 1153.4,507.17 1153.55,507.19 1153.69,507.2 1153.84,507.19 1153.99,507.17 1154.13,507.14 1154.27,507.09 1154.4,507.02 1154.53,506.95 1154.65,506.86 1154.76,506.76 1154.86,506.65 1154.95,506.53 1163.2,494.2 1173.26,482.09 1180.21,478.53 1185.43,483.76 1191.52,497.99 1191.59,498.13 1191.67,498.25 1191.76,498.37 1191.86,498.48 1191.97,498.58 1192.1,498.67 1192.23,498.74 1202.63,503.94 1202.76,504 1202.89,504.04 1203.02,504.07 1203.16,504.09 1203.29,504.1 1203.43,504.09 1215.83,502.99 1216.01,502.97 1216.17,502.92 1228.42,498.84 1244.91,494.77 1257.25,492.68 1257.39,492.65 1257.54,492.6 1257.67,492.54 1270.01,486.37 1280.17,482.33 1287.3,480.5 1292.75,487.8 1298.88,506.17 1298.94,506.33 1299.01,506.47 1299.1,506.6 1305.3,514.8 1305.39,514.91 1305.49,515.01 1305.6,515.1 1305.72,515.18 1305.85,515.25 1305.98,515.31 1306.11,515.35 1306.25,515.38 1318.65,517.48 1318.79,517.5 1318.93,517.5 1319.07,517.49 1337.61,515.4 1360.06,514.5 1360.2,514.49 1360.34,514.46 1360.48,514.42 1360.62,514.37 1360.74,514.3 1360.86,514.23 1360.98,514.14 1361.08,514.04 1361.18,513.93 1361.26,513.81 1361.33,513.69 1361.39,513.56 1361.44,513.42 1361.47,513.29 1361.49,513.14 1361.5,513 1361.5,370 1361.49,369.85 1361.47,369.71 1361.44,369.56 1361.39,369.43 1361.32,369.29 1361.25,369.17 1361.16,369.05 1361.06,368.94 1360.95,368.84 1360.83,368.75 1360.71,368.68 1360.57,368.61 1360.44,368.56 1360.29,368.53 1360.15,368.51 1360,368.5 1124.5,368.5" fill="#f07130" filter="url(#b3_5)"/><polygon points="1124.5,370 1125.5,395 1128,431.3 1135.1,462.3 1141.3,482.9 1147.5,501.5 1153.7,505.7 1162,493.3 1172.3,480.9 1180.5,476.7 1186.7,482.9 1192.9,497.4 1203.3,502.6 1215.7,501.5 1228,497.4 1244.6,493.3 1257,491.2 1269.4,485 1279.7,480.9 1287.9,478.8 1294.1,487.1 1300.3,505.7 1306.5,513.9 1318.9,516 1337.5,513.9 1360,513 1360,370" fill="#ee590c" filter="url(#b2_5)"/></g><text x="1052.8" y="422.6" font-size="23" font-weight="bold" fill="#000" opacity="0.35" filter="url(#b1)">SET-C</text><text x="1052" y="421.8" font-size="23" font-weight="bold" fill="#fff">SET-C</text><text x="1213.8" y="413.8" font-size="21.3" fill="#fff">Coulomb</text><text x="1213.8" y="439.6" font-size="21.3" fill="#fff">Blockade</text><text x="1213.8" y="464.3" font-size="21.3" fill="#fff">Regions</text><path d="M1240.4 471.6L1185.17 501.89" stroke="#fff" stroke-width="2"/><polygon points="1176.4,506.7 1184.04,495.67 1189.81,506.19" fill="#fff"/><path d="M1240.4 471.6L1235.57 506.49" stroke="#fff" stroke-width="2"/><polygon points="1234.2,516.4 1229.9,503.69 1241.79,505.34" fill="#fff"/><path d="M1240.4 471.6L1273.99 499.33" stroke="#fff" stroke-width="2"/><polygon points="1281.7,505.7 1268.63,502.69 1276.27,493.43" fill="#fff"/><text transform="translate(1332.7 648.1) scale(1 1.03)" font-size="22.2" text-anchor="end">Room Temp.</text><rect x="1046" y="393.5" width="294" height="266.5" fill="none" stroke="#000" stroke-width="2"/><path d="M1070.5 660V657.8M1095 660V655.4M1119.5 660V657.8M1144 660V655.4M1168.5 660V657.8M1193 660V655.4M1217.5 660V657.8M1242 660V655.4M1266.5 660V657.8M1291 660V655.4M1315.5 660V657.8M1046 626.69H1048.2M1046 593.38H1050.6M1046 560.06H1048.2M1046 526.75H1050.6M1046 493.44H1048.2M1046 460.12H1050.6M1046 426.81H1048.2" stroke="#000" stroke-width="1.6" fill="none"/><text transform="translate(1045.2 684.7) scale(1 1.1)" font-size="22.2" text-anchor="middle">0</text><text transform="translate(1094.2 684.7) scale(1 1.1)" font-size="22.2" text-anchor="middle">0.5</text><text transform="translate(1143.2 684.7) scale(1 1.1)" font-size="22.2" text-anchor="middle">1</text><text transform="translate(1192.2 684.7) scale(1 1.1)" font-size="22.2" text-anchor="middle">1.5</text><text transform="translate(1241.2 684.7) scale(1 1.1)" font-size="22.2" text-anchor="middle">2</text><text transform="translate(1290.2 684.7) scale(1 1.1)" font-size="22.2" text-anchor="middle">2.5</text><text transform="translate(1339.2 684.7) scale(1 1.1)" font-size="22.2" text-anchor="middle">3</text><text transform="translate(1039.2 666.7) scale(1 1.1)" font-size="22" text-anchor="end">-0.5</text><text transform="translate(1039.2 600.08) scale(1 1.1)" font-size="22" text-anchor="end">-0.25</text><text transform="translate(1039.2 533.45) scale(1 1.1)" font-size="22" text-anchor="end">0</text><text transform="translate(1039.2 466.82) scale(1 1.1)" font-size="22" text-anchor="end">0.25</text><text transform="translate(1039.2 399.4) scale(1 1.1)" font-size="22" text-anchor="end">0.5</text><text x="1165.4" y="710.5" font-size="24.3">V<tspan font-size="15" dy="7">G</tspan><tspan dy="-7"> (V)</tspan></text><text transform="translate(989.6,558.9) rotate(-90)" font-size="24.5">V<tspan font-size="15.5" dy="7.4">D</tspan><tspan dy="-7.4"> (V)</tspan></text><linearGradient id="gf" x1="0" y1="0" x2="0" y2="1"><stop offset="0" stop-color="#ee590c"/><stop offset="0.5" stop-color="#f5aa85"/><stop offset="1" stop-color="#fff"/></linearGradient><rect x="1355.6" y="426.4" width="19.2" height="232.9" rx="1.5" fill="url(#gf)" stroke="#333" stroke-width="1.1"/><text x="1381.5" y="436.9" font-size="18.5">10</text><text x="1381" y="549.45" font-size="18.5">0</text><text x="1381" y="661.1" font-size="18.5">-10</text><text x="1351.4" y="407.6" font-size="20.2">I<tspan font-size="12" dy="5">D</tspan><tspan dy="-5">(nA)</tspan></text></svg></body></html>
